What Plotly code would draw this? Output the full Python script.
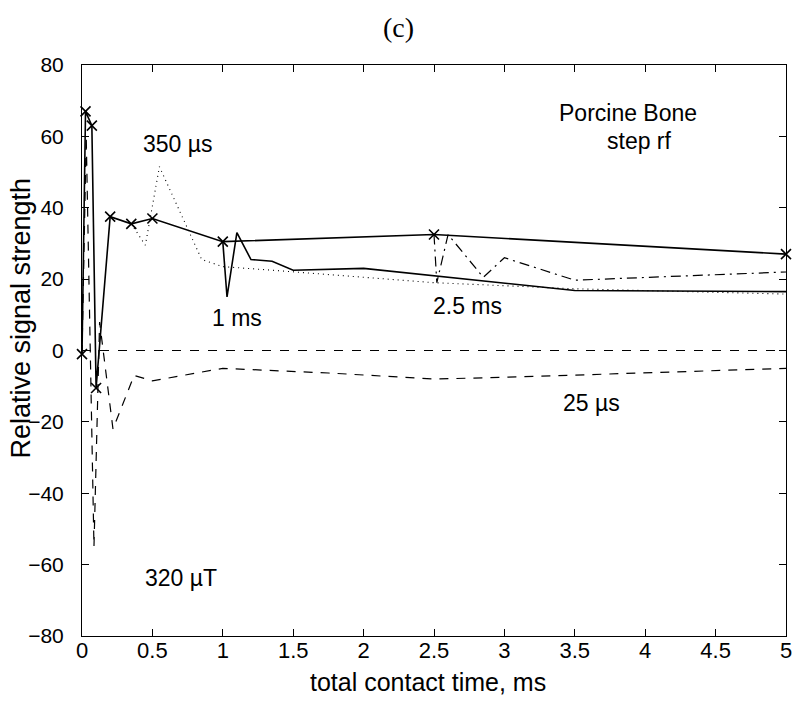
import plotly.graph_objects as go

# ---- data ----
main_x = [0.0, 0.025, 0.07, 0.1, 0.2, 0.35, 0.5, 1.0, 2.5, 5.0]
main_y = [-1.0, 67.0, 63.0, -10.5, 37.5, 35.5, 37.0, 30.5, 32.5, 27.0]

us25_x = [0.0, 0.03, 0.085, 0.125, 0.22, 0.37, 0.5, 1.0, 1.75, 2.5, 3.1, 5.0]
us25_y = [-1.0, 60.0, -55.0, 8.0, -22.0, -7.0, -8.5, -5.0, -6.3, -8.0, -7.4, -5.0]

zero_x = [0.0, 5.0]
zero_y = [0.0, 0.0]

us350_x = [0.35, 0.45, 0.55, 0.72, 0.85, 1.0, 1.35, 2.5, 3.5, 5.0]
us350_y = [35.5, 29.5, 51.5, 37.0, 25.5, 23.5, 22.5, 19.0, 17.3, 15.8]

ms1_x = [1.0, 1.03, 1.1, 1.2, 1.35, 1.5, 2.0, 2.5, 3.5, 5.0]
ms1_y = [30.5, 15.0, 33.0, 25.5, 25.0, 22.5, 23.0, 21.0, 16.8, 16.5]

ms25_x = [2.5, 2.52, 2.6, 2.85, 3.0, 3.5, 5.0]
ms25_y = [32.5, 19.0, 32.5, 20.5, 26.0, 19.7, 22.0]

x_ticks = [0, 0.5, 1, 1.5, 2, 2.5, 3, 3.5, 4, 4.5, 5]
x_tick_text = ["0", "0.5", "1", "1.5", "2", "2.5", "3", "3.5", "4", "4.5", "5"]
y_ticks = [-80, -60, -40, -20, 0, 20, 40, 60, 80]

labels = [
    ("350 \u00b5s", 0.68, 58.0),
    ("1 ms", 1.10, 9.0),
    ("2.5 ms", 2.74, 12.5),
    ("25 \u00b5s", 3.62, -14.7),
    ("320 \u00b5T", 0.70, -63.7),
    ("Porcine Bone", 3.88, 66.5),
    ("step rf", 3.96, 58.7),
]

SANS = "Liberation Sans, Arial, Helvetica, sans-serif"

fig = go.Figure()
fig.add_trace(go.Scatter(x=zero_x, y=zero_y, mode="lines",
                         line=dict(color="black", width=1.1, dash="9px,9px")))
fig.add_trace(go.Scatter(x=us25_x, y=us25_y, mode="lines",
                         line=dict(color="black", width=1.2, dash="9px,8px")))
fig.add_trace(go.Scatter(x=us350_x, y=us350_y, mode="lines",
                         line=dict(color="black", width=1.1, dash="1px,4px")))
fig.add_trace(go.Scatter(x=ms1_x, y=ms1_y, mode="lines",
                         line=dict(color="black", width=1.6)))
fig.add_trace(go.Scatter(x=ms25_x, y=ms25_y, mode="lines",
                         line=dict(color="black", width=1.2,
                                   dash="10px,5px,2px,5px")))
fig.add_trace(go.Scatter(x=main_x, y=main_y, mode="lines+markers",
                         cliponaxis=False,
                         line=dict(color="black", width=1.6),
                         marker=dict(symbol="x-thin", size=10, color="black",
                                     line=dict(color="black", width=1.6))))

for txt, lx, ly in labels:
    fig.add_annotation(x=lx, y=ly, text=txt, showarrow=False,
                       xanchor="center", yanchor="middle",
                       font=dict(family=SANS, size=23, color="black"))

# title and axis titles placed as paper annotations
fig.add_annotation(xref="paper", yref="paper", x=0.449, y=1.0, yshift=38,
                   xanchor="center", yanchor="middle",
                   text="(c)", showarrow=False,
                   font=dict(family="Liberation Serif, Times New Roman, serif",
                             size=28, color="black"))
fig.add_annotation(xref="paper", yref="paper", x=0.492, y=0.0, yshift=-46,
                   xanchor="center", yanchor="middle",
                   text="total contact time, ms", showarrow=False,
                   font=dict(family=SANS, size=25, color="black"))
fig.add_annotation(xref="paper", yref="paper", x=0.0, xshift=-61, y=0.556,
                   xanchor="center", yanchor="middle", textangle=-90,
                   text="Relative signal strength", showarrow=False,
                   font=dict(family=SANS, size=27, color="black"))

fig.update_layout(
    width=804, height=702,
    margin=dict(l=82, r=13, t=65, b=66),
    paper_bgcolor="white", plot_bgcolor="white",
    showlegend=False,
    xaxis=dict(range=[0, 5], tickvals=x_ticks, ticktext=x_tick_text,
               ticks="inside", ticklen=7, tickcolor="black", tickwidth=1,
               showline=True, linecolor="black", linewidth=1, mirror="ticks",
               showgrid=False, zeroline=False, ticklabelstandoff=-5,
               tickfont=dict(family=SANS, size=22, color="black")),
    yaxis=dict(range=[-80, 80], tickvals=y_ticks,
               ticks="inside", ticklen=7, tickcolor="black", tickwidth=1,
               showline=True, linecolor="black", linewidth=1, mirror="ticks",
               showgrid=False, zeroline=False, ticklabelstandoff=13,
               tickfont=dict(family=SANS, size=21, color="black")),
)

fig.write_html("out.html")
